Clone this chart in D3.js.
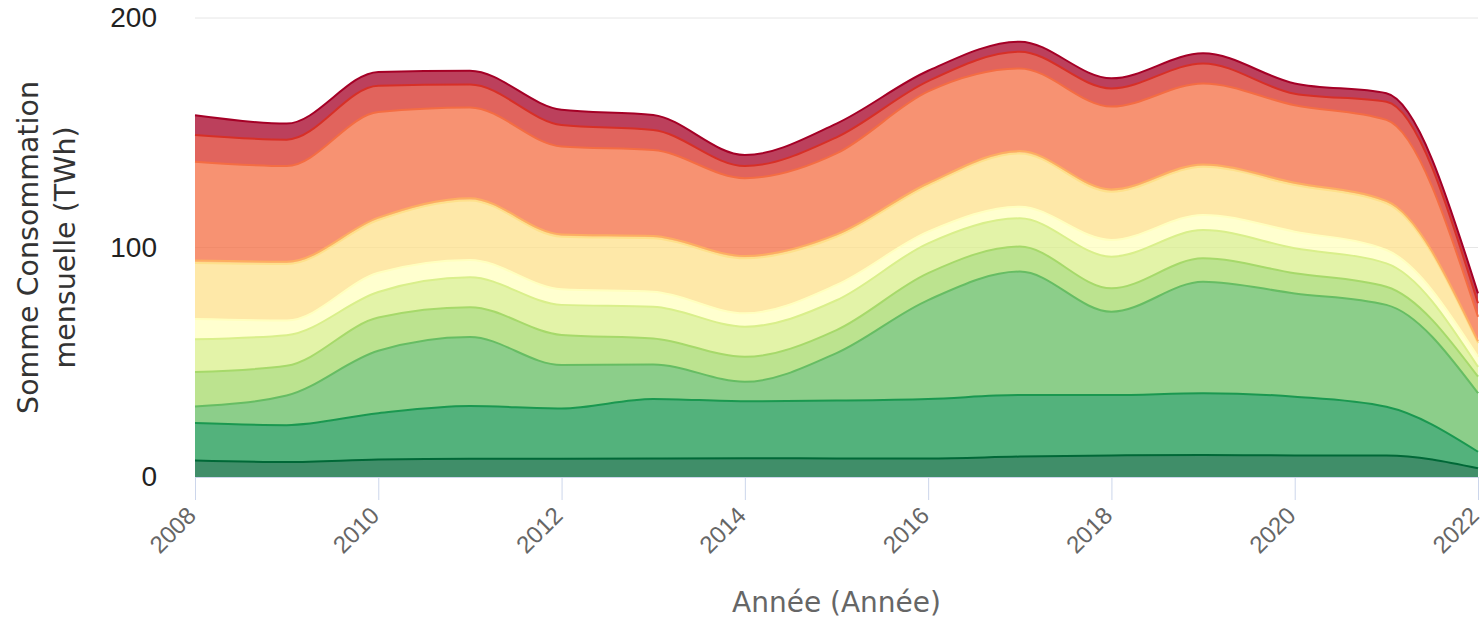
<!DOCTYPE html>
<html>
<head>
<meta charset="utf-8">
<script src="https://cdn.jsdelivr.net/npm/d3@7"></script>
<style>
  body { margin: 0; background: #fff; }
  svg { display: block; font-family: "DejaVu Sans", Verdana, sans-serif; }
</style>
</head>
<body>
<svg id="chart" width="1483" height="620"></svg>
<script>
// years on the x axis
const years = [2008, 2009, 2010, 2011, 2012, 2013, 2014, 2015, 2016, 2017, 2018, 2019, 2020, 2021, 2022];

// monthly consumption sums (TWh), bottom layer first
const classe1 = [7.2, 6.5, 7.6, 8, 8, 8.1, 8.2, 8.1, 8.1, 8.9, 9.4, 9.6, 9.4, 9.4, 3.8];
const classe2 = [16.3, 16.1, 20.2, 22.9, 21.9, 25.9, 24.8, 25.2, 25.9, 26.8, 26.3, 26.9, 25.6, 21.2, 7.2];
const classe3 = [7.2, 12.9, 27.2, 30.1, 18.9, 15, 8.5, 20.7, 43.1, 53.8, 36.3, 48.6, 45, 44.4, 25.5];
const classe4 = [15, 13, 14.5, 13, 13.1, 11.4, 10.9, 10, 11.7, 10.9, 10.2, 10.2, 8.8, 7.9, 7.2];
const classe5 = [14.3, 13.3, 11.1, 13, 13.1, 13.8, 13.1, 13, 13, 12.3, 13.8, 12.3, 10.9, 10.2, 4.3];
const classe6 = [8.8, 6.4, 8.4, 7.6, 6.8, 6.5, 5.8, 6.7, 5.1, 5.1, 7.3, 6.6, 7.2, 5.8, 4.4];
const classe7 = [24.5, 24.6, 23, 25.9, 22.9, 23.3, 24, 21, 20.1, 23.2, 21, 21, 20.3, 20.4, 5.9];
const classe8 = [1, 1, 1, 1, 1, 1, 1, 1, 1, 1, 1, 1, 1, 1, 0.8];
const classe9 = [43.1, 41.7, 46, 39.5, 38.3, 37.5, 33.9, 35.3, 40, 36, 36.1, 35.3, 33.8, 35.3, 10.7];
const classe10 = [11.6, 11.5, 11.5, 10, 9.4, 8.7, 5.3, 7, 4.5, 7.3, 7.9, 8.7, 5, 7.9, 5.9];
const classe11 = [8.6, 7, 6, 6, 6.6, 6.5, 4.8, 6, 4.5, 4.4, 4.4, 4.4, 4.5, 3.7, 4.3];

const seriesNames = ["classe1", "classe2", "classe3", "classe4", "classe5", "classe6",
  "classe7", "classe8", "classe9", "classe10", "classe11"];
const seriesValues = [classe1, classe2, classe3, classe4, classe5, classe6,
  classe7, classe8, classe9, classe10, classe11];

const xTicks = [2008, 2010, 2012, 2014, 2016, 2018, 2020, 2022];
const yTicks = [0, 100, 200];

const margin = { left: 195, right: 5, top: 18, bottom: 143 };
const width = 1483, height = 620;

const table = years.map((y, i) => {
  const row = { year: y };
  seriesNames.forEach((n, k) => { row[n] = seriesValues[k][i]; });
  return row;
});

const colors = d3.schemeRdYlGn[11].slice().reverse();

const svg = d3.select("#chart");

const x = d3.scaleLinear()
  .domain([2008, 2022])
  .range([margin.left, width - margin.right]);
const y = d3.scaleLinear()
  .domain([0, 200])
  .range([height - margin.bottom, margin.top]);

// grid
svg.append("g")
  .selectAll("line")
  .data(yTicks.filter(d => d > 0))
  .join("line")
  .attr("x1", x.range()[0])
  .attr("x2", x.range()[1])
  .attr("y1", d => y(d))
  .attr("y2", d => y(d))
  .attr("stroke", "#e6e6e6")
  .attr("stroke-width", 1);

const stack = d3.stack().keys(seriesNames);
const layers = stack(table);

const area = d3.area()
  .x(d => x(d.data.year))
  .y0(d => y(d[0]))
  .y1(d => y(d[1]))
  .curve(d3.curveMonotoneX);

const line = d3.line()
  .x(d => x(d.data.year))
  .y(d => y(d[1]))
  .curve(d3.curveMonotoneX);

const g = svg.append("g");
g.selectAll("path.area")
  .data(layers)
  .join("path")
  .attr("class", "area")
  .attr("d", area)
  .attr("fill", (d, i) => colors[i])
  .attr("fill-opacity", 0.75);

g.selectAll("path.line")
  .data(layers)
  .join("path")
  .attr("class", "line")
  .attr("d", line)
  .attr("fill", "none")
  .attr("stroke", (d, i) => colors[i])
  .attr("stroke-width", 2);

// x axis
const xAxis = svg.append("g")
  .attr("transform", `translate(0,${y(0)})`)
  .call(d3.axisBottom(x).tickValues(xTicks).tickFormat(d3.format("d")).tickSize(23).tickSizeOuter(0));
xAxis.select(".domain").attr("stroke", "#ccd6eb");
xAxis.selectAll(".tick line").attr("stroke", "#ccd6eb");
xAxis.selectAll(".tick text")
  .attr("fill", "#666")
  .style("font-size", "24px")
  .attr("text-anchor", "end")
  .attr("dy", null)
  .attr("y", 0)
  .attr("transform", "translate(2,40) rotate(-45)");

// y axis
const yAxis = svg.append("g")
  .attr("transform", `translate(${margin.left - 38},0)`)
  .call(d3.axisLeft(y).tickValues(yTicks).tickSize(0));
yAxis.select(".domain").remove();
yAxis.selectAll(".tick text")
  .attr("fill", "#222")
  .attr("x", 0)
  .style("font-size", "28px");

// titles
svg.append("text")
  .attr("x", (x.range()[0] + x.range()[1]) / 2)
  .attr("y", 612)
  .attr("text-anchor", "middle")
  .attr("fill", "#666")
  .style("font-size", "28px")
  .text("Année (Année)");

const yTitle = svg.append("text")
  .attr("transform", `translate(38,${(y(0) + y(200)) / 2}) rotate(-90)`)
  .attr("text-anchor", "middle")
  .attr("fill", "#333")
  .style("font-size", "28.5px");
yTitle.append("tspan").attr("x", 0).attr("dy", 0).text("Somme Consommation");
yTitle.append("tspan").attr("x", 0).attr("dy", 37).text("mensuelle (TWh)");
</script>
</body>
</html>
